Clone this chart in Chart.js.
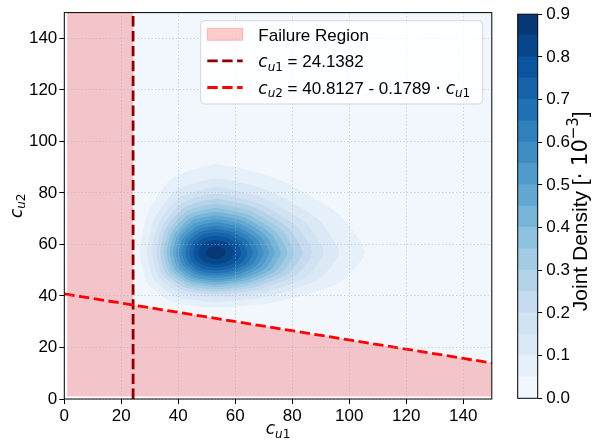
<!DOCTYPE html>
<html><head><meta charset="utf-8">
<script src="https://cdn.jsdelivr.net/npm/chart.js@4/dist/chart.umd.min.js"></script>
<style>
html,body{margin:0;padding:0;background:#fff;}
#wrap{position:relative;width:593px;height:443px;}
#wrap canvas{position:absolute;left:0;top:0;}
</style></head><body>
<div id="wrap"><canvas id="main" width="593" height="443"></canvas><canvas id="cbar" width="593" height="443"></canvas></div>
<script>
// ---------------- data ----------------
const xTicks = [0, 20, 40, 60, 80, 100, 120, 140];
const yTicks = [0, 20, 40, 60, 80, 100, 120, 140];
const cbarTicks = [0.0, 0.1, 0.2, 0.3, 0.4, 0.5, 0.6, 0.7, 0.8, 0.9];
const levels = [0.00, 0.05, 0.10, 0.15, 0.20, 0.25, 0.30, 0.35, 0.40, 0.45, 0.50, 0.55, 0.60, 0.65, 0.70, 0.75, 0.80, 0.85, 0.90];
const densityDomain = [1, 150];           // extent of the density grid on both axes
const cu1Limit = 24.1382;                 // vertical limit state
const lineIntercept = 40.8127;            // c_u2 = 40.8127 - 0.1789 * c_u1
const lineSlope = -0.1789;

// contour outlines (c_u1, c_u2) for each density level [x10^-3]
const c05 = [[105.5,56.8],[96.2,71.9],[74.8,85.4],[53,91.0],[37.6,85.4],[29.2,71.9],[26.6,56.8],[29.2,44.9],[37.6,37.8],[53,35.5],[74.8,37.8],[96.2,44.9]];
const c10 = [[96.5,56.8],[89.1,69.7],[71.5,81.0],[53,85.6],[39.3,81.0],[31.5,69.7],[29.1,56.8],[31.5,46.3],[39.3,39.8],[53,37.7],[71.5,39.8],[89.1,46.3]];
const c15 = [[91.0,56.8],[84.6,68.3],[69.4,78.2],[53,82.2],[40.5,78.2],[33.2,68.3],[30.9,56.8],[33.2,47.2],[40.5,41.2],[53,39.3],[69.4,41.2],[84.6,47.2]];
const c20 = [[86.9,56.8],[81.3,67.3],[67.9,76.1],[53,79.7],[41.4,76.1],[34.6,67.3],[32.3,56.8],[34.6,48.0],[41.4,42.4],[53,40.5],[67.9,42.4],[81.3,48.0]];
const c25 = [[83.6,56.8],[78.6,66.4],[66.6,74.4],[53,77.6],[42.2,74.4],[35.7,66.4],[33.6,56.8],[35.7,48.6],[42.2,43.4],[53,41.6],[66.6,43.4],[78.6,48.6]];
const c30 = [[80.7,56.8],[76.3,65.6],[65.4,72.9],[53,75.7],[42.9,72.9],[36.8,65.6],[34.8,56.8],[36.8,49.2],[42.9,44.3],[53,42.6],[65.4,44.3],[76.3,49.2]];
const c35 = [[78.2,56.8],[74.2,64.9],[64.4,71.5],[53,74.1],[43.6,71.5],[37.8,64.9],[35.9,56.8],[37.8,49.7],[43.6,45.1],[53,43.5],[64.4,45.1],[74.2,49.7]];
const c40 = [[75.9,56.8],[72.4,64.2],[63.4,70.3],[53,72.6],[44.3,70.3],[38.8,64.2],[37.0,56.8],[38.8,50.2],[44.3,45.9],[53,44.4],[63.4,45.9],[72.4,50.2]];
const c45 = [[73.8,56.8],[70.6,63.6],[62.6,69.1],[53,71.2],[44.9,69.1],[39.8,63.6],[38.1,56.8],[39.8,50.7],[44.9,46.7],[53,45.3],[62.6,46.7],[70.6,50.7]];
const c50 = [[71.8,56.8],[69.0,63.0],[61.7,68.0],[53,69.9],[45.5,68.0],[40.7,63.0],[39.1,56.8],[40.7,51.2],[45.5,47.4],[53,46.1],[61.7,47.4],[69.0,51.2]];
const c55 = [[69.9,56.8],[67.3,62.4],[60.9,66.9],[53,68.6],[46.2,66.9],[41.7,62.4],[40.2,56.8],[41.7,51.7],[46.2,48.2],[53,47.0],[60.9,48.2],[67.3,51.7]];
const c60 = [[68.0,56.8],[65.8,61.9],[60.0,65.8],[53,67.3],[46.8,65.8],[42.7,61.9],[41.3,56.8],[42.7,52.2],[46.8,49.0],[53,47.9],[60.0,49.0],[65.8,52.2]];
const c65 = [[66.1,56.8],[64.2,61.3],[59.2,64.7],[53,66.1],[47.5,64.7],[43.8,61.3],[42.5,56.8],[43.8,52.7],[47.5,49.8],[53,48.8],[59.2,49.8],[64.2,52.7]];
const c70 = [[64.2,56.8],[62.5,60.6],[58.3,63.6],[53,64.7],[48.2,63.6],[44.9,60.6],[43.8,56.8],[44.9,53.2],[48.2,50.7],[53,49.9],[58.3,50.7],[62.5,53.2]];
const c75 = [[62.1,56.8],[60.8,60.0],[57.4,62.4],[53,63.3],[49.0,62.4],[46.2,60.0],[45.3,56.8],[46.2,53.8],[49.0,51.7],[53,51.0],[57.4,51.7],[60.8,53.8]];
const c80 = [[59.7,56.8],[58.8,59.2],[56.3,61.0],[53,61.6],[49.9,61.0],[47.8,59.2],[47.0,56.8],[47.8,54.5],[49.9,52.9],[53,52.3],[56.3,52.9],[58.8,54.5]];
const c85 = [[56.6,56.8],[56.1,58.1],[54.8,59.0],[53,59.4],[51.3,59.0],[50.1,58.1],[49.7,56.8],[50.1,55.6],[51.3,54.7],[53,54.3],[54.8,54.7],[56.1,55.6]];
const contourList = [c05, c10, c15, c20, c25, c30, c35, c40, c45, c50, c55, c60, c65, c70, c75, c80, c85];

// ---------------- styles ----------------
const bandColors = ['rgb(241,247,253)','rgb(230,240,250)','rgb(219,233,246)','rgb(209,226,243)','rgb(198,219,239)',
  'rgb(180,211,233)','rgb(162,204,227)','rgb(141,193,221)','rgb(118,180,216)','rgb(98,168,210)','rgb(80,155,203)',
  'rgb(62,142,196)','rgb(48,128,189)','rgb(33,113,181)','rgb(22,99,170)','rgb(11,85,159)','rgb(8,70,140)','rgb(8,55,118)'];
const FAIL_COLOR = 'rgba(255,0,0,0.2)';
const DARKRED = '#8b0000';
const RED = '#ff0000';
const DASH = [10.4, 4.5];
const LW = 2.8;
const F_TXT = '17px "Liberation Sans"';
const F_MI = 'italic 17px "DejaVu Sans"';
const F_MR = '17px "DejaVu Sans"';
const F_SI = 'italic 12px "DejaVu Sans"';
const F_SR = '12px "DejaVu Sans"';
const F_CB = '21px "Liberation Sans"';
const F_CBM = '21px "DejaVu Sans"';
const F_CBS = '15px "DejaVu Sans"';

Chart.defaults.font.family = '"Liberation Sans", Arial, sans-serif';
Chart.defaults.color = '#000';

const toPts = arr => arr.map(p => ({x: p[0], y: p[1]}));
const lineAt = x => lineIntercept + lineSlope * x;
const [d0, d1] = densityDomain;

const datasets = [];
// background band (0 - 0.05)
datasets.push({data: toPts([[d0,d0],[d0,d1],[d1,d1],[d1,d0]]), backgroundColor: bandColors[0], fill: 'shape', borderWidth: 0, tension: 0, order: 100});
contourList.forEach((c, k) => {
  datasets.push({data: toPts(c), backgroundColor: bandColors[k + 1], fill: 'shape', borderWidth: 0,
    tension: 0.2, spanGaps: true, closedCurve: true, order: 99 - k});
});
// failure region
datasets.push({data: toPts([[d0,d0],[d0,d1],[cu1Limit,d1],[cu1Limit,lineAt(cu1Limit)],[d1,lineAt(d1)],[d1,d0]]),
  backgroundColor: FAIL_COLOR, fill: 'shape', borderWidth: 0, tension: 0, order: 3});
// limit lines
datasets.push({data: toPts([[cu1Limit,0],[cu1Limit,150]]), borderColor: DARKRED, borderWidth: LW, borderDash: DASH, fill: false, tension: 0, order: 2});
datasets.push({data: toPts([[0,lineAt(0)],[150,lineAt(150)]]), borderColor: RED, borderWidth: LW, borderDash: DASH, fill: false, tension: 0, order: 1});

function richWidth(ctx, parts) { let w = 0; for (const p of parts) { ctx.font = p.f; w += ctx.measureText(p.t).width; } return w; }
function drawRich(ctx, parts, x, y, align) {
  const w = richWidth(ctx, parts);
  let cx = align === 'center' ? x - w / 2 : x;
  ctx.textAlign = 'left'; ctx.textBaseline = 'alphabetic';
  for (const p of parts) { ctx.font = p.f; ctx.fillText(p.t, cx, y + (p.dy || 0)); cx += ctx.measureText(p.t).width; }
}
const mathC = sub => [{t:'c', f:F_MI}, {t:'u', f:F_SI, dy:3.5}, {t:sub, f:F_SR, dy:3.5}];

const loopPlugin = {
  id: 'closedCurves',
  afterDatasetsUpdate(chart) {
    chart.data.datasets.forEach((ds, i) => {
      if (ds.closedCurve) { const m = chart.getDatasetMeta(i); m.dataset._loop = true; m.dataset._fullLoop = true; }
    });
  }
};

const decorPlugin = {
  id: 'decor',
  afterDraw(chart) {
    const ctx = chart.ctx, ca = chart.chartArea;
    ctx.save();
    // frame
    ctx.strokeStyle = '#000'; ctx.lineWidth = 1;
    ctx.strokeRect(ca.left, ca.top, ca.right - ca.left, ca.bottom - ca.top);
    ctx.fillStyle = '#000';
    // axis titles
    drawRich(ctx, mathC('1'), (ca.left + ca.right) / 2, 434, 'center');
    ctx.save();
    ctx.translate(21.5, (ca.top + ca.bottom) / 2);
    ctx.rotate(-Math.PI / 2);
    drawRich(ctx, mathC('2'), 0, 0, 'center');
    ctx.restore();
    // legend
    const bx = 200.7, by = 20.7, bw = 282, bh = 83.3;
    ctx.beginPath(); ctx.roundRect(bx, by, bw, bh, 4);
    ctx.fillStyle = 'rgba(255,255,255,0.8)'; ctx.fill();
    ctx.strokeStyle = 'rgba(204,204,204,0.8)'; ctx.lineWidth = 1; ctx.stroke();
    const hx0 = 207.3, hx1 = 242.7, tx = 258.3;
    const rows = [34.3, 60.9, 87.5];
    ctx.fillStyle = FAIL_COLOR; ctx.fillRect(hx0, rows[0] - 6, hx1 - hx0, 12);
    ctx.strokeStyle = FAIL_COLOR; ctx.lineWidth = 1; ctx.strokeRect(hx0, rows[0] - 6, hx1 - hx0, 12);
    ctx.lineWidth = LW; ctx.setLineDash(DASH);
    ctx.strokeStyle = DARKRED; ctx.beginPath(); ctx.moveTo(hx0, rows[1]); ctx.lineTo(hx1, rows[1]); ctx.stroke();
    ctx.strokeStyle = RED; ctx.beginPath(); ctx.moveTo(hx0, rows[2]); ctx.lineTo(hx1, rows[2]); ctx.stroke();
    ctx.setLineDash([]);
    ctx.fillStyle = '#000';
    drawRich(ctx, [{t:'Failure Region', f:F_TXT}], tx, rows[0] + 6.2, 'left');
    drawRich(ctx, [...mathC('1'), {t:' = ' + cu1Limit.toFixed(4), f:F_TXT}], tx, rows[1] + 6.2, 'left');
    drawRich(ctx, [...mathC('2'), {t:' = ' + lineIntercept.toFixed(4) + ' - ' + Math.abs(lineSlope).toFixed(4) + ' ', f:F_TXT},
      {t:'\u00b7', f:F_MR}, {t:' ', f:F_TXT}, ...mathC('1')], tx, rows[2] + 6.2, 'left');
    ctx.restore();
  }
};

const gridStyle = {color: 'rgba(176,176,176,0.55)', lineWidth: 1, tickLength: 5, tickColor: '#000', tickWidth: 1, z: 1};

new Chart(document.getElementById('main'), {
  type: 'line',
  data: {datasets},
  options: {
    responsive: false, animation: false, events: [],
    layout: {padding: {left: 0, right: 101.2, top: 12.6, bottom: 0}},
    elements: {point: {radius: 0, hitRadius: 0}},
    plugins: {legend: {display: false}, tooltip: {enabled: false}},
    scales: {
      x: {type: 'linear', position: 'bottom', min: 0, max: 150,
        afterFit: s => { s.height = 44; },
        afterBuildTicks: s => { s.ticks = xTicks.map(v => ({value: v})); },
        ticks: {font: {size: 17}, color: '#000', padding: 2, maxRotation: 0, autoSkip: false, z: 1},
        grid: gridStyle, border: {display: false, dash: [1.3, 2.2], z: 1}},
      y: {type: 'linear', position: 'left', min: 0, max: 150,
        afterFit: s => { s.width = 64.3; },
        afterBuildTicks: s => { s.ticks = yTicks.map(v => ({value: v})); },
        ticks: {font: {size: 17}, color: '#000', padding: 2, autoSkip: false, z: 1},
        grid: gridStyle, border: {display: false, dash: [1.3, 2.2], z: 1}}
    }
  },
  plugins: [loopPlugin, decorPlugin]
});

// ---------------- colour bar ----------------
const cbarDatasets = levels.slice(1).map((lv, k) => ({
  data: [lv - levels[k]], backgroundColor: bandColors[k], borderWidth: 0, barPercentage: 1, categoryPercentage: 1, inflateAmount: 0.5
}));
const cbarPlugin = {
  id: 'cbarDecor',
  afterDraw(chart) {
    const ctx = chart.ctx, ca = chart.chartArea;
    ctx.save();
    ctx.strokeStyle = '#000'; ctx.lineWidth = 1;
    ctx.strokeRect(ca.left, ca.top, ca.right - ca.left, ca.bottom - ca.top);
    ctx.fillStyle = '#000';
    ctx.translate(587, (ca.top + ca.bottom) / 2 + 5);
    ctx.rotate(-Math.PI / 2);
    drawRich(ctx, [{t:'Joint Density [', f:F_CB}, {t:'\u00b7', f:F_CBM}, {t:' 10', f:F_CBM}, {t:'\u22123', f:F_CBS, dy:-9}, {t:']', f:F_CB}], 0, 0, 'center');
    ctx.restore();
  }
};
new Chart(document.getElementById('cbar'), {
  type: 'bar',
  data: {labels: ['density'], datasets: cbarDatasets},
  options: {
    responsive: false, animation: false, events: [],
    layout: {padding: {left: 517.7, right: 0, top: 12.3, bottom: 44.7}},
    plugins: {legend: {display: false}, tooltip: {enabled: false}},
    scales: {
      x: {display: false, stacked: true},
      y: {stacked: true, position: 'right', min: 0, max: 0.9,
        afterFit: s => { s.width = 55.3; },
        afterBuildTicks: s => { s.ticks = cbarTicks.map(v => ({value: v})); },
        ticks: {font: {size: 17}, color: '#000', padding: 4, callback: v => Number(v).toFixed(1)},
        grid: {drawOnChartArea: false, tickLength: 4.5, tickColor: '#000', tickWidth: 1},
        border: {display: false}}
    }
  },
  plugins: [cbarPlugin]
});
</script>
</body></html>
